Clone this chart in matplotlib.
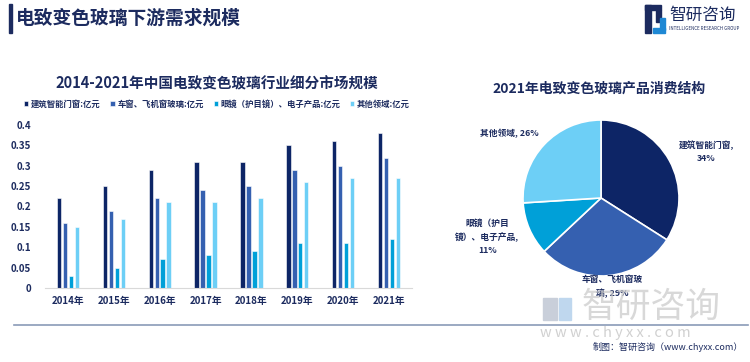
import matplotlib
matplotlib.use("Agg")
import matplotlib.pyplot as plt
import numpy as np
from matplotlib.patches import Rectangle

plt.rcParams['font.family'] = ['Noto Sans CJK SC', 'DejaVu Sans']

years = ["2014年", "2015年", "2016年", "2017年", "2018年", "2019年", "2020年", "2021年"]
series_names = ["建筑智能门窗:亿元", "车窗、飞机窗玻璃:亿元", "眼镜（护目镜）、电子产品:亿元", "其他领域:亿元"]
building = [0.22, 0.25, 0.29, 0.31, 0.31, 0.35, 0.36, 0.38]
vehicle = [0.16, 0.19, 0.22, 0.24, 0.25, 0.29, 0.30, 0.32]
glasses = [0.03, 0.05, 0.07, 0.08, 0.09, 0.11, 0.11, 0.12]
other = [0.15, 0.17, 0.21, 0.21, 0.22, 0.26, 0.27, 0.27]
yticks = [0, 0.05, 0.1, 0.15, 0.2, 0.25, 0.3, 0.35, 0.4]
ytick_labels = ["0", "0.05", "0.1", "0.15", "0.2", "0.25", "0.3", "0.35", "0.4"]

pie_labels = ["建筑智能门窗,\n34%", "车窗、飞机窗玻\n璃, 29%", "眼镜（护目\n镜）、电子产品,\n11%", "其他领域, 26%"]
pie_values = [34, 29, 11, 26]

colors = ["#0D2566", "#3560B0", "#00A0D8", "#6DCFF6"]
navy = "#1C2B5F"

W, H = 750, 362
fig = plt.figure(figsize=(7.5, 3.62), dpi=100)
fig.patch.set_facecolor("white")

def fx(px):
    return px / W

def fy(py):
    return 1 - py / H

# Header
fig.add_artist(Rectangle((fx(9), fy(33)), fx(3), 29 / H, color=navy, transform=fig.transFigure))
fig.text(fx(16), fy(18), "电致变色玻璃下游需求规模", fontsize=13.5, fontweight="bold", color=navy, va="center", ha="left")

# Logo (top right)
fig.add_artist(Rectangle((fx(645), fy(33)), fx(6), 28 / H, color=navy, transform=fig.transFigure))
fig.add_artist(Rectangle((fx(645), fy(10)), fx(16), 5 / H, color=navy, transform=fig.transFigure))
fig.add_artist(Rectangle((fx(656), fy(22)), fx(5), 12 / H, color=navy, transform=fig.transFigure))
fig.add_artist(Rectangle((fx(653), fy(33)), fx(12), 5 / H, color="#1E88D4", transform=fig.transFigure))
fig.add_artist(Rectangle((fx(660), fy(30)), fx(5), 12 / H, color="#1E88D4", transform=fig.transFigure))
fig.text(fx(669), fy(15), "智研咨询", fontsize=12, color=navy, va="center", ha="left")
fig.text(fx(669), fy(28), "INTELLIGENCE RESEARCH GROUP", fontsize=3.2, color=navy, va="center", ha="left")

# Bar chart
ax = fig.add_axes([fx(45), fy(288), fx(412) - fx(45), (288 - 125) / H])
x = np.arange(len(years))
pitch = 0.13
bw = 0.095
for i, (vals, c, name) in enumerate(zip([building, vehicle, glasses, other], colors, series_names)):
    ax.bar(x + (i - 1.5) * pitch, vals, width=bw, color=c, edgecolor="white", linewidth=0.4, label=name)
ax.set_xlim(-0.5, len(years) - 0.5)
ax.set_ylim(0, 0.4)
ax.set_yticks(yticks)
ax.set_yticklabels(ytick_labels)
ax.set_xticks(x)
ax.set_xticklabels(years)
for s in ["top", "right", "left"]:
    ax.spines[s].set_visible(False)
ax.spines["bottom"].set_color("#D9D9D9")
ax.spines["bottom"].set_linewidth(0.8)
ax.tick_params(axis="both", length=0, labelsize=7, labelcolor=navy, pad=6)
ax.tick_params(axis="y", pad=10)
for lbl in ax.get_xticklabels() + ax.get_yticklabels():
    lbl.set_fontweight("bold")

fig.text(fx(217), fy(83), "2014-2021年中国电致变色玻璃行业细分市场规模", fontsize=10.5, fontweight="bold", color=navy, ha="center", va="center")
leg = fig.legend(loc="center", bbox_to_anchor=(fx(217), fy(104)), ncol=4, frameon=False,
                 fontsize=6, handlelength=0.5, handleheight=0.5, handletextpad=0.3, columnspacing=1.2)
for t in leg.get_texts():
    t.set_color(navy)
    t.set_fontweight("bold")

# Pie chart
cx, cy, r = 601, 198, 78
half = 125
k = half / r
pax = fig.add_axes([fx(cx - half), fy(cy + half), 2 * half / W, 2 * half / H])
pax.pie(pie_values, colors=colors, startangle=90, counterclock=False,
        wedgeprops=dict(edgecolor="white", linewidth=1.2))
pax.set_xlim(-k, k)
pax.set_ylim(-k, k)
pax.set_aspect("equal")
pax.axis("off")
label_pos = [(1.35, 0.59), (0.14, -1.14), (-1.46, -0.50), (-1.17, 0.83)]
for lab, (lx, ly) in zip(pie_labels, label_pos):
    pax.text(lx, ly, lab, fontsize=6.3, fontweight="bold", color=navy, ha="center", va="center",
             linespacing=1.6, zorder=5)
fig.text(fx(599), fy(89), "2021年电致变色玻璃产品消费结构", fontsize=10, fontweight="bold", color=navy, ha="center", va="center")

# Watermark
fig.add_artist(Rectangle((fx(543), fy(320)), fx(14), 22 / H, color="#C9CFDA", transform=fig.transFigure, zorder=0))
fig.add_artist(Rectangle((fx(559), fy(320)), fx(12), 22 / H, color="#BFD7EE", transform=fig.transFigure, zorder=0))
fig.text(fx(582), fy(307), "智研咨询", fontsize=25, color="#C8C8C8", ha="left", va="center", alpha=0.7, zorder=0)
fig.text(fx(540), fy(333), "w w w . c h y x x . c o m", fontsize=10.5, color="#BDBDBD", ha="left", va="center", alpha=0.7, zorder=0)

# Bottom line and source
fig.add_artist(plt.Line2D([fx(14), fx(748)], [fy(325), fy(325)], color="#8A9BB8", linewidth=1.2, transform=fig.transFigure))
fig.text(fx(593), fy(347), "制图：智研咨询（www.chyxx.com）", fontsize=6.5, color=navy, ha="left", va="center")

fig.savefig("out.png", dpi=100)
